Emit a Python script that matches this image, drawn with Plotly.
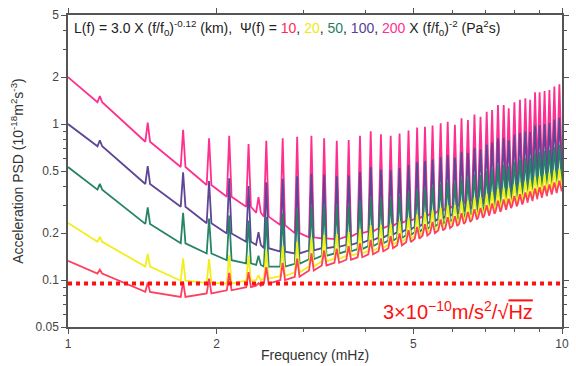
import plotly.graph_objects as go

# ---- data (PSD in 1e-18 m^2 s^-3, frequency in mHz) ----
mode_freq = [1.16, 1.45, 1.71, 1.93, 2.12, 2.32, 2.43, 2.52, 2.72, 2.91, 3.11, 3.30, 3.50, 3.70,
             3.90, 4.10, 4.30, 4.50, 4.69, 4.89, 5.09, 5.28, 5.47, 5.68, 5.87, 6.07, 6.26, 6.45,
             6.65, 6.84, 7.04, 7.22, 7.42, 7.62, 7.80, 8.01, 8.22, 8.43, 8.62, 8.82, 9.01, 9.22,
             9.43, 9.65, 9.88]

f_start = 1.0
f_end = 10.0

psi_levels = [200, 100, 50, 20, 10]
start_vals = [2.0, 1.0, 0.53, 0.232, 0.133]
end_vals = [0.55, 0.48, 0.425, 0.395, 0.375]

trough_200 = [1.38, 0.77, 0.53, 0.407, 0.342, 0.295, 0.27, 0.255, 0.225, 0.20, 0.188, 0.185, 0.183,
              0.19, 0.20, 0.205, 0.215, 0.222, 0.232, 0.24, 0.248, 0.257, 0.267, 0.278, 0.288,
              0.298, 0.308, 0.319, 0.33, 0.341, 0.353, 0.364, 0.376, 0.388, 0.40, 0.413, 0.426,
              0.44, 0.453, 0.467, 0.48, 0.495, 0.51, 0.525, 0.54]
peak_200 = [1.51, 1.02, 0.92, 0.81, 0.84, 0.745, 0.34, 0.78, 0.81, 0.83, 0.84, 0.81, 0.78, 0.79,
            0.84, 0.90, 0.86, 0.84, 0.87, 0.91, 0.95, 0.96, 0.98, 1.01, 1.035, 0.99, 1.09, 1.06,
            1.15, 1.115, 1.20, 1.23, 1.325, 1.325, 1.26, 1.38, 1.43, 1.46, 1.43, 1.60, 1.60, 1.63,
            1.65, 1.74, 1.80]

trough_100 = [0.72, 0.413, 0.295, 0.231, 0.199, 0.176, 0.168, 0.16, 0.152, 0.148, 0.155, 0.16,
              0.163, 0.168, 0.173, 0.18, 0.187, 0.195, 0.203, 0.211, 0.22, 0.229, 0.238, 0.248,
              0.257, 0.266, 0.275, 0.285, 0.295, 0.305, 0.315, 0.325, 0.335, 0.346, 0.356, 0.367,
              0.378, 0.39, 0.401, 0.413, 0.424, 0.436, 0.448, 0.46, 0.472]
peak_100 = [0.785, 0.538, 0.49, 0.431, 0.449, 0.401, 0.203, 0.423, 0.445, 0.463, 0.48, 0.473,
            0.463, 0.468, 0.493, 0.528, 0.51, 0.505, 0.523, 0.546, 0.57, 0.579, 0.593, 0.613,
            0.632, 0.611, 0.665, 0.655, 0.705, 0.69, 0.74, 0.76, 0.81, 0.816, 0.786, 0.852,
            0.878, 0.90, 0.891, 0.978, 0.984, 1.0, 1.018, 1.068, 1.102]

trough_50 = [0.38, 0.229, 0.172, 0.148, 0.134, 0.128, 0.125, 0.122, 0.122, 0.127, 0.136, 0.143,
             0.148, 0.153, 0.158, 0.165, 0.172, 0.179, 0.186, 0.194, 0.203, 0.212, 0.22, 0.229,
             0.237, 0.245, 0.253, 0.261, 0.27, 0.278, 0.287, 0.296, 0.305, 0.314, 0.322, 0.332,
             0.341, 0.351, 0.36, 0.37, 0.379, 0.389, 0.399, 0.409, 0.42]
peak_50 = [0.413, 0.292, 0.27, 0.248, 0.259, 0.241, 0.143, 0.253, 0.268, 0.285, 0.298, 0.299,
           0.298, 0.303, 0.318, 0.339, 0.333, 0.334, 0.346, 0.362, 0.378, 0.387, 0.398, 0.412,
           0.425, 0.418, 0.448, 0.446, 0.475, 0.471, 0.50, 0.514, 0.543, 0.549, 0.537, 0.575,
           0.591, 0.606, 0.605, 0.653, 0.659, 0.673, 0.684, 0.713, 0.735]

trough_20 = [0.176, 0.122, 0.099, 0.096, 0.095, 0.099, 0.10, 0.102, 0.106, 0.112, 0.122, 0.132,
             0.137, 0.143, 0.148, 0.154, 0.161, 0.168, 0.176, 0.184, 0.193, 0.202, 0.21, 0.218,
             0.226, 0.233, 0.241, 0.248, 0.256, 0.264, 0.272, 0.28, 0.288, 0.296, 0.304, 0.312,
             0.32, 0.329, 0.337, 0.346, 0.354, 0.363, 0.372, 0.381, 0.39]
peak_20 = [0.189, 0.147, 0.138, 0.136, 0.145, 0.144, 0.107, 0.155, 0.165, 0.175, 0.187, 0.195,
           0.197, 0.203, 0.212, 0.224, 0.226, 0.23, 0.24, 0.251, 0.263, 0.272, 0.281, 0.291,
           0.301, 0.302, 0.319, 0.322, 0.338, 0.341, 0.357, 0.367, 0.383, 0.39, 0.39, 0.409,
           0.42, 0.431, 0.435, 0.459, 0.466, 0.477, 0.486, 0.503, 0.516]

trough_10 = [0.11, 0.084, 0.078, 0.082, 0.086, 0.09, 0.092, 0.095, 0.10, 0.105, 0.115, 0.124,
             0.129, 0.135, 0.14, 0.146, 0.153, 0.16, 0.167, 0.175, 0.184, 0.193, 0.20, 0.208,
             0.215, 0.222, 0.229, 0.236, 0.244, 0.251, 0.259, 0.266, 0.274, 0.282, 0.289, 0.297,
             0.305, 0.313, 0.321, 0.329, 0.337, 0.345, 0.353, 0.361, 0.37]
peak_10 = [0.1165, 0.0965, 0.0975, 0.102, 0.111, 0.1125, 0.0955, 0.121, 0.129, 0.137, 0.148, 0.155,
           0.159, 0.165, 0.172, 0.181, 0.185, 0.191, 0.199, 0.209, 0.219, 0.228, 0.236, 0.245,
           0.253, 0.257, 0.268, 0.273, 0.285, 0.29, 0.302, 0.31, 0.322, 0.329, 0.332, 0.346,
           0.355, 0.364, 0.37, 0.386, 0.393, 0.402, 0.41, 0.422, 0.433]

noise_level = 0.095  # 3e-10 m/s^2/sqrt(Hz) line

x_tick_vals = [1, 2, 5, 10]
x_tick_text = ["1", "2", "5", "10"]
x_minor_vals = [3, 4, 6, 7, 8, 9]
y_tick_vals = [0.05, 0.1, 0.2, 0.5, 1, 2, 5]
y_tick_text = ["0.05", "0.1", "0.2", "0.5", "1", "2", "5"]
y_minor_vals = [0.06, 0.07, 0.08, 0.09, 0.3, 0.4, 0.6, 0.7, 0.8, 0.9, 3, 4]

# ---- styles ----
colors = {200: "#ff2f8f", 100: "#5f4597", 50: "#268366", 20: "#f2ee1c", 10: "#ff3f60"}
PEAK_HALF_WIDTH = 0.011  # relative half-width of each resonance spike

troughs = {200: trough_200, 100: trough_100, 50: trough_50, 20: trough_20, 10: trough_10}
peaks = {200: peak_200, 100: peak_100, 50: peak_50, 20: peak_20, 10: peak_10}


def spectrum(psi, v0, v1):
    xs, ys = [f_start], [v0]
    for f, b, p in zip(mode_freq, troughs[psi], peaks[psi]):
        xs += [f * (1 - PEAK_HALF_WIDTH), f, f * (1 + PEAK_HALF_WIDTH)]
        ys += [b, p, b]
    xs.append(f_end)
    ys.append(v1)
    return xs, ys


fig = go.Figure()
for psi, v0, v1 in zip(psi_levels, start_vals, end_vals):
    xs, ys = spectrum(psi, v0, v1)
    fig.add_trace(go.Scatter(x=xs, y=ys, mode="lines",
                             line=dict(color=colors[psi], width=1.8),
                             showlegend=False, hoverinfo="skip"))

fig.add_trace(go.Scatter(x=[f_start, f_end], y=[noise_level, noise_level], mode="lines",
                         line=dict(color="#ff1010", width=4, dash="dot"),
                         showlegend=False, hoverinfo="skip"))

axis_common = dict(type="log", showgrid=False, zeroline=False, showline=True,
                   linecolor="#555555", linewidth=1.5, mirror="allticks",
                   ticks="outside", ticklen=5, tickwidth=1.2, tickcolor="#555555",
                   tickfont=dict(family="Arial", size=12, color="#444444"))

fig.update_xaxes(range=[0, 1], tickvals=x_tick_vals, ticktext=x_tick_text,
                 minor=dict(tickvals=x_minor_vals, ticks="outside", ticklen=3, tickcolor="#555555"),
                 **axis_common)
fig.update_yaxes(range=[-1.30103, 0.69897], tickvals=y_tick_vals, ticktext=y_tick_text,
                 minor=dict(tickvals=y_minor_vals, ticks="outside", ticklen=3, tickcolor="#555555"),
                 title=dict(text="Acceleration PSD (10<sup>-18</sup>m<sup>2</sup>s<sup>-3</sup>)",
                            font=dict(family="Arial", size=14, color="#333333"), standoff=9),
                 **axis_common)

fig.add_annotation(x=0.5, y=-0.09, xref="paper", yref="paper", xanchor="center", yanchor="middle",
                   text="Frequency (mHz)", showarrow=False,
                   font=dict(family="Arial", size=14, color="#333333"))

title_txt = ("L(f) = 3.0 X (f/f<sub>0</sub>)<sup>-0.12</sup> (km),  \u03a8(f) = "
             "<span style='color:#ff2a55'>10</span>, "
             "<span style='color:#eeea10'>20</span>, "
             "<span style='color:#1f7f60'>50</span>, "
             "<span style='color:#583f92'>100</span>, "
             "<span style='color:#ff2f8f'>200</span>"
             " X (f/f<sub>0</sub>)<sup>-2</sup> (Pa<sup>2</sup>s)")
fig.add_annotation(x=0.008, y=0.958, xref="paper", yref="paper", xanchor="left", yanchor="middle",
                   text=title_txt, showarrow=False,
                   font=dict(family="Arial", size=14, color="#222222"))

fig.add_annotation(x=0.946, y=0.054, xref="paper", yref="paper", xanchor="right", yanchor="middle",
                   text="3\u00d710<sup>\u221210</sup>m/s<sup>2</sup>/\u221a<span style='text-decoration:overline'>Hz</span>",
                   showarrow=False, font=dict(family="Arial", size=20, color="#ff1010"))

fig.update_layout(width=576, height=366, margin=dict(l=68, r=7, t=15, b=39),
                  paper_bgcolor="white", plot_bgcolor="white")

fig.write_html("out.html", config={"displayModeBar": False},
               post_script="document.body.style.margin='0px';")
